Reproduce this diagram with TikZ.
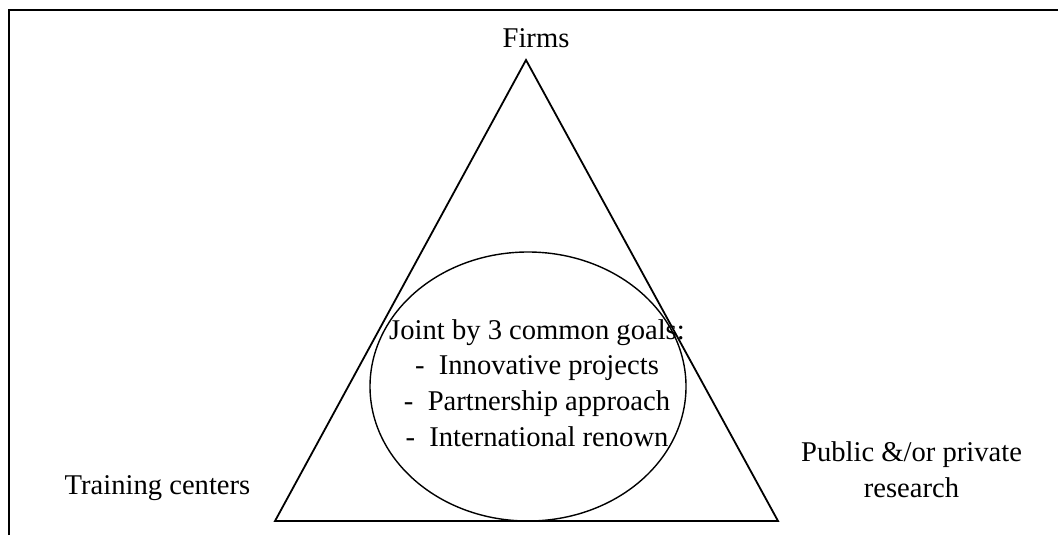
\documentclass[tikz,border=0pt]{standalone}
\usepackage{fontspec}
\setmainfont{Liberation Serif}
\usepackage{tikz}
\usetikzlibrary{calc,shapes,positioning}

\begin{document}
\begin{tikzpicture}[x=0.5pt,y=-0.5pt]
      \tikzstyle{lnode} = [inner sep = 0pt, align=center, font=\fontsize{14.3}{17.8}\selectfont]
      \tikzstyle{frame} = [line width=1.1pt]
      \tikzstyle{tri} = [line width=0.9pt, line join=miter]

      \useasboundingbox (0,0) rectangle (1058,535);

      % frame (top and left only)
      \coordinate (fl) at (9,535);
      \coordinate (ftl) at (9,10);
      \coordinate (ftr) at (1058,10);
      \draw[frame] (fl) -- (ftl) -- (ftr);

      % triangle
      \coordinate (top) at (526,60);
      \coordinate (bl) at (275,521);
      \coordinate (br) at (778,521);
      \draw[tri] (top) -- (bl) -- (br) -- cycle;

      % ellipse of goals
      \coordinate (ec) at (528,386.5);
      \draw[line width=0.7pt] (ec) ellipse [x radius=158, y radius=134.5];

      \node[lnode] (firms) at (536,38) {Firms};
      \node[lnode] (train) at (157.5,488) {Training centers};
      \node[lnode] (research) at (911.5,470) {Public \&/or private\\research};
      \node[lnode] (goals) at (537,383) {Joint by 3 common goals:\\
        -~~Innovative projects\\
        -~~Partnership approach\\
        -~~International renown};
\end{tikzpicture}
\end{document}
